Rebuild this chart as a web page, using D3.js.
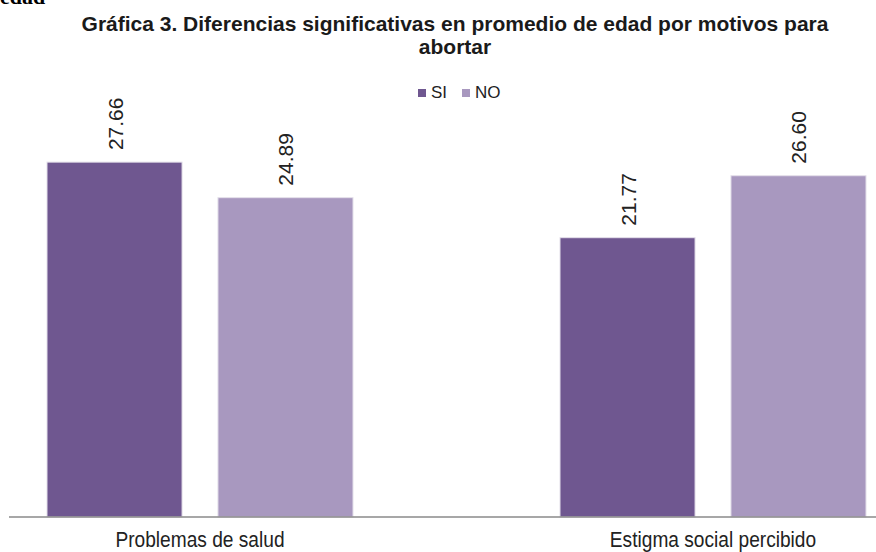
<!DOCTYPE html>
<html><head><meta charset="utf-8">
<script src="https://cdn.jsdelivr.net/npm/d3@7"></script>
<style>body{margin:0;background:#fff}svg{display:block}</style>
</head><body>
<script>
const categories = ["Problemas de salud", "Estigma social percibido"];
const seriesNames = ["SI", "NO"];
const siValues = [27.66, 21.77];
const noValues = [24.89, 26.60];
const colors = {SI: "#6f5790", NO: "#a898bf"};

const W = 876, H = 552;
const svg = d3.select("body").append("svg").attr("width", W).attr("height", H);

// partial cut-off heading
svg.append("text").attr("x", 0).attr("y", 4)
  .attr("font-family", "Liberation Serif, serif").attr("font-weight", "bold")
  .attr("font-size", 22).attr("fill", "#000").text("edad");

// title
const title = svg.append("text").attr("text-anchor", "middle")
  .attr("font-family", "Liberation Sans, Arial, sans-serif").attr("font-weight", "bold")
  .attr("font-size", 21).attr("fill", "#1a1a1a");
title.append("tspan").attr("x", 455).attr("y", 31)
  .text("Gráfica 3. Diferencias significativas en promedio de edad por motivos para");
title.append("tspan").attr("x", 455).attr("y", 54).text("abortar");

// legend
const legend = [{name: "SI", x: 418}, {name: "NO", x: 462}];
legend.forEach(l => {
  svg.append("rect").attr("x", l.x).attr("y", 89).attr("width", 8).attr("height", 8)
    .attr("fill", colors[l.name]);
  svg.append("text").attr("x", l.x + 13).attr("y", 98)
    .attr("font-family", "Liberation Sans, Arial, sans-serif").attr("font-size", 17)
    .attr("fill", "#222").text(l.name);
});

const data = categories.map((c, i) => ({cat: c, SI: siValues[i], NO: noValues[i]}));

const x0 = d3.scaleBand().domain(categories).range([47, 866]).paddingInner(0.4035).paddingOuter(0);
const x1 = d3.scaleBand().domain(seriesNames).range([0, x0.bandwidth()]).paddingInner(0.21).paddingOuter(0);
const y = d3.scaleLinear().domain([0, 30]).range([517, 517 - 30 * 12.83]);

const g = svg.append("g");
const groups = g.selectAll("g.grp").data(data).enter().append("g")
  .attr("transform", d => `translate(${x0(d.cat)},0)`);

groups.selectAll("rect").data(d => seriesNames.map(s => ({s, v: d[s]}))).enter()
  .append("rect")
  .attr("x", d => x1(d.s)).attr("y", d => y(d.v))
  .attr("width", x1.bandwidth()).attr("height", d => y(0) - y(d.v))
  .attr("fill", d => colors[d.s])
  .attr("stroke", "#e4e0ea").attr("stroke-width", 1);

groups.selectAll("text.val").data(d => seriesNames.map(s => ({s, v: d[s]}))).enter()
  .append("text")
  .attr("transform", d => `translate(${x1(d.s) + x1.bandwidth() / 2 + 8},${y(d.v) - 12}) rotate(-90)`)
  .attr("font-family", "Liberation Sans, Arial, sans-serif").attr("font-size", 21)
  .attr("fill", "#222").text(d => d.v.toFixed(2));

// axis
const axis = svg.append("g").attr("transform", "translate(0,517)")
  .call(d3.axisBottom(x0).tickSize(0).tickPadding(14));
axis.select(".domain").attr("d", "M9,0H876").attr("stroke", "#8a8a8a").attr("stroke-width", 1.5);
axis.selectAll("text").attr("font-family", "Liberation Sans, Arial, sans-serif")
  .attr("font-size", 22).attr("fill", "#222").attr("transform", "scale(0.87,1)");
</script>
</body></html>
